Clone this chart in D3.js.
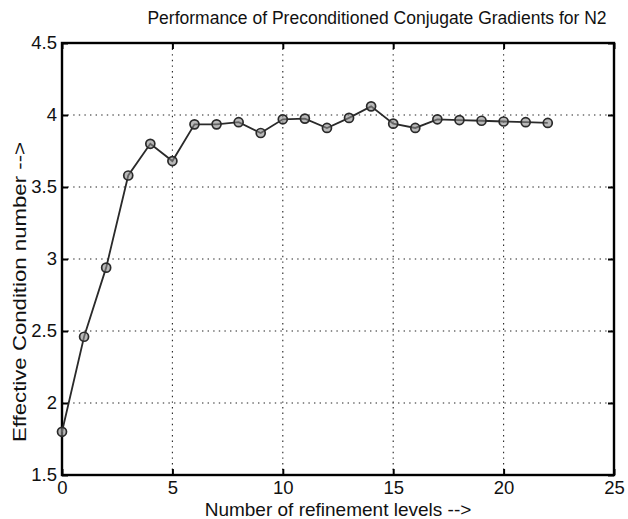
<!DOCTYPE html>
<html>
<head>
<meta charset="utf-8">
<script src="https://cdn.jsdelivr.net/npm/d3@7"></script>
<style>
  html, body { margin: 0; padding: 0; background: #fff; }
  svg { display: block; }
  text { font-family: "Liberation Sans", Arial, Helvetica, sans-serif; fill: #111; }
</style>
</head>
<body>
<svg id="chart" width="628" height="519"></svg>
<script>
// Refinement levels and the effective condition number measured at each
const levels = [0, 1, 2, 3, 4, 5, 6, 7, 8, 9, 10, 11, 12, 13, 14, 15, 16, 17, 18, 19, 20, 21, 22];
const condition = [1.80, 2.46, 2.94, 3.58, 3.80, 3.68, 3.935, 3.935, 3.95, 3.875, 3.97, 3.975,
                   3.91, 3.98, 4.06, 3.94, 3.91, 3.97, 3.965, 3.96, 3.955, 3.95, 3.945];
const xTicks = [0, 5, 10, 15, 20, 25];
const yTicks = [1.5, 2, 2.5, 3, 3.5, 4, 4.5];

const title = "Performance of Preconditioned Conjugate Gradients for N2";
const xLabel = "Number of refinement levels -->";
const yLabel = "Effective Condition number -->";

const svg = d3.select("#chart");
const m = { left: 62, right: 614, top: 43, bottom: 475 };

const x = d3.scaleLinear().domain([0, 25]).range([m.left, m.right]);
const y = d3.scaleLinear().domain([1.5, 4.5]).range([m.bottom, m.top]);

// dotted grid
const grid = svg.append("g");
grid.selectAll("line.gx").data(xTicks.slice(1, -1)).join("line")
  .attr("x1", d => x(d)).attr("x2", d => x(d))
  .attr("y1", m.top).attr("y2", m.bottom)
  .attr("stroke", "#222").attr("stroke-width", 1.1).attr("stroke-dasharray", "1.4,4.2");
grid.selectAll("line.gy").data(yTicks.slice(1, -1)).join("line")
  .attr("x1", m.left).attr("x2", m.right)
  .attr("y1", d => y(d)).attr("y2", d => y(d))
  .attr("stroke", "#222").attr("stroke-width", 1.1).attr("stroke-dasharray", "1.4,4.2");

// axes with inward ticks
const xAxis = d3.axisBottom(x).tickValues(xTicks).tickSize(-6).tickPadding(6).tickFormat(d3.format("d"));
const yAxis = d3.axisLeft(y).tickValues(yTicks).tickSize(-6).tickPadding(5).tickFormat(d => String(d));

const gx = svg.append("g").attr("transform", `translate(0,${m.bottom})`).call(xAxis);
const gy = svg.append("g").attr("transform", `translate(${m.left},0)`).call(yAxis);
[gx, gy].forEach(g => {
  g.select(".domain").remove();
  g.selectAll(".tick line").attr("stroke", "#000").attr("stroke-width", 2);
  g.selectAll(".tick text").attr("font-size", 18.5).attr("fill", "#111")
    .attr("font-family", "Liberation Sans, Arial, sans-serif");
});

// mirrored ticks on top and right
const gxt = svg.append("g").attr("transform", `translate(0,${m.top})`)
  .call(d3.axisTop(x).tickValues(xTicks).tickSize(-6).tickFormat(""));
const gyr = svg.append("g").attr("transform", `translate(${m.right},0)`)
  .call(d3.axisRight(y).tickValues(yTicks).tickSize(-6).tickFormat(""));
[gxt, gyr].forEach(g => {
  g.select(".domain").remove();
  g.selectAll(".tick line").attr("stroke", "#000").attr("stroke-width", 2);
});

// frame
svg.append("rect")
  .attr("x", m.left).attr("y", m.top)
  .attr("width", m.right - m.left).attr("height", m.bottom - m.top)
  .attr("fill", "none").attr("stroke", "#000").attr("stroke-width", 2.4);

// series line
const pts = levels.map((l, i) => [l, condition[i]]);
svg.append("path")
  .datum(pts)
  .attr("fill", "none")
  .attr("stroke", "#2a2a2a")
  .attr("stroke-width", 1.8)
  .attr("d", d3.line().x(d => x(d[0])).y(d => y(d[1])));

// circle markers
svg.append("g").selectAll("circle").data(pts).join("circle")
  .attr("cx", d => x(d[0])).attr("cy", d => y(d[1]))
  .attr("r", 4.5)
  .attr("fill", "#8a8a8a")
  .attr("fill-opacity", 0.6)
  .attr("stroke", "#2a2a2a")
  .attr("stroke-width", 1.7);

// labels
svg.append("text")
  .attr("x", 377).attr("y", 24)
  .attr("text-anchor", "middle").attr("font-size", 17.5)
  .text(title);

svg.append("text")
  .attr("x", (m.left + m.right) / 2).attr("y", 516)
  .attr("text-anchor", "middle").attr("font-size", 19)
  .text(xLabel);

svg.append("text")
  .attr("transform", `translate(26,292) rotate(-90)`)
  .attr("text-anchor", "middle").attr("font-size", 19)
  .attr("textLength", 300).attr("lengthAdjust", "spacingAndGlyphs")
  .text(yLabel);
</script>
</body>
</html>
